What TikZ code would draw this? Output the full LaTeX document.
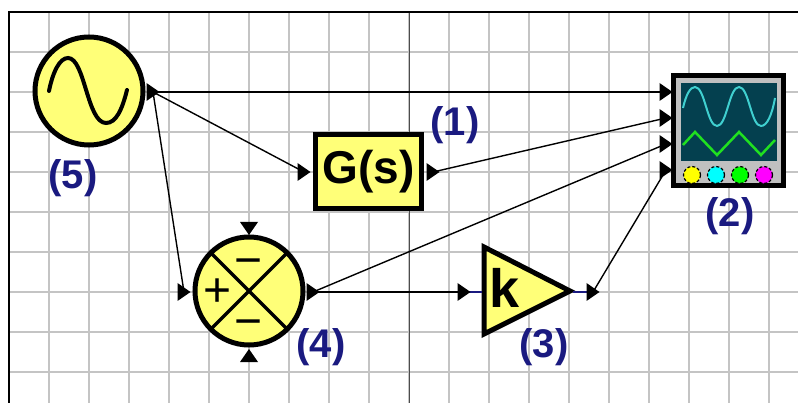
\documentclass[tikz,border=0pt]{standalone}
\usepackage{fontspec}
\setmainfont{Liberation Sans}
\usetikzlibrary{shapes.geometric}
\definecolor{blockyellow}{HTML}{FFFF78}
\definecolor{gridgray}{HTML}{C4C4C4}
\definecolor{labelblue}{HTML}{1A1A80}
\definecolor{screenteal}{HTML}{04404F}
\definecolor{tracecyan}{HTML}{40D0D0}
\definecolor{tracegreen}{HTML}{20E020}
\definecolor{knobyellow}{HTML}{FFFF00}
\definecolor{knobcyan}{HTML}{00FFFF}
\definecolor{knobgreen}{HTML}{00FF00}
\definecolor{knobmagenta}{HTML}{FF00FF}
\definecolor{panelgray}{HTML}{C0C0C0}
\tikzset{
  x=1pt,y=-1pt,
  block/.style={draw=black,line width=5pt,fill=blockyellow,inner sep=0pt,outer sep=0pt},
  roundblock/.style={block,circle,minimum size=108pt},
  wire/.style={black,line width=1.4pt},
  stub/.style={labelblue,line width=1.8pt},
  tag/.style={text=labelblue,font=\fontsize{40}{40}\selectfont\bfseries,inner sep=0pt},
  sign/.style={font=\fontsize{48}{48}\selectfont,inner sep=0pt},
  knob/.style={circle,draw=black,densely dashed,line width=1.2pt,minimum size=17pt,inner sep=0pt},
  porttip/.style={fill=black,draw=none},
}
\newcommand{\portright}[2]{\coordinate (#1) at #2; \fill[porttip] (#1) ++(-6.5,-9) -- ++(13,9) -- ++(-13,9) -- cycle;}
\newcommand{\portdown}[2]{\coordinate (#1) at #2; \fill[porttip] (#1) ++(-9,-6) -- ++(18,0) -- ++(-9,13) -- cycle;}
\newcommand{\portup}[2]{\coordinate (#1) at #2; \fill[porttip] (#1) ++(-9,6) -- ++(18,0) -- ++(-9,-13) -- cycle;}
\begin{document}
\begin{tikzpicture}
\useasboundingbox (0,0) rectangle (798,403);
\fill[white] (0,0) rectangle (798,403);
% grid
\foreach \gx in {49,89,...,769} \draw[gridgray,line width=1.5pt] (\gx,12) -- (\gx,403);
\foreach \gy in {52,92,...,372} \draw[gridgray,line width=1.5pt] (9,\gy) -- (798,\gy);
\draw[black!70,line width=1.5pt] (409.5,12) -- (409.5,403);
\draw[black,line width=2pt] (9,403) -- (9,12) -- (798,12);
% wires
\coordinate (srcout) at (153,92);
\coordinate (gin) at (304,172);
\coordinate (gout) at (433,172);
\coordinate (sumin) at (184,292);
\coordinate (sumout) at (313,292);
\coordinate (kin) at (464,292);
\coordinate (kout) at (593,292);
\coordinate (sa) at (666,92);
\coordinate (sb) at (666,118);
\coordinate (sc) at (666,144);
\coordinate (sd) at (666,170);
\draw[wire] (srcout) -- (sa);
\draw[wire] (srcout) -- (gin);
\draw[wire] (srcout) -- (sumin);
\draw[wire] (gout) -- (sb);
\draw[wire] (sumout) -- (sc);
\draw[wire] (sumout) -- (kin);
\draw[wire] (kout) -- (sd);
% source
\node[roundblock] (src) at (89,91) {};
\draw[black,line width=4pt,line cap=round] (49,91) .. controls (53,71) and (60,58) .. (68,58) .. controls (85,58) and (87,123) .. (106,123) .. controls (116,123) and (122,110) .. (127,90);
% transfer block
\node[block,minimum width=106pt,minimum height=74pt] (gbox) at (368.5,171.5) {\fontsize{46}{46}\selectfont\bfseries G(s)};
% summing junction
\node[roundblock] (sum) at (249,291) {};
\draw[black,line width=3.5pt] (sum.45) -- (sum.225);
\draw[black,line width=3.5pt] (sum.135) -- (sum.315);
\node[sign] (plus) at (218,293) {+};
\node[sign] (minusa) at (249,268) {−};
\node[sign] (minusb) at (249,329) {−};
% gain
\draw[block,line join=miter] (484,247) -- (484,334) -- (570,291) -- cycle;
\node[inner sep=0pt,font=\fontsize{54}{54}\selectfont\bfseries] (gaink) at (505,288) {k};
\coordinate (kl) at (482,292);
\coordinate (kr) at (573,292);
\draw[stub] (kin) -- (kl);
\draw[stub] (kr) -- (kout);
% scope
\node[draw=black,line width=5pt,fill=panelgray,minimum size=110pt,inner sep=0pt,outer sep=0pt] (scope) at (728.5,130.5) {};
\fill[screenteal] (681,83) rectangle (777,161);
\draw[tracecyan,line width=2pt] (683,108) .. controls (686,95) and (690,87) .. (695,87) .. controls (705,87) and (707,126) .. (717,126) .. controls (727,126) and (729,87) .. (739,87) .. controls (749,87) and (751,126) .. (761,126) .. controls (767,126) and (772,115) .. (775,98);
\draw[tracegreen,line width=2.5pt] (683,145) -- (695,132) -- (717,155) -- (739,132) -- (761,155) -- (775,140);
\node[knob,fill=knobyellow] (ka) at (692,175) {};
\node[knob,fill=knobcyan] (kb) at (716,175) {};
\node[knob,fill=knobgreen] (kc) at (740,175) {};
\node[knob,fill=knobmagenta] (kd) at (764,175) {};
% ports
\portright{psrc}{(srcout)}
\portright{pgin}{(gin)}
\portright{pgout}{(gout)}
\portright{psumin}{(sumin)}
\portright{psumout}{(sumout)}
\portright{pkin}{(kin)}
\portright{pkout}{(kout)}
\portright{psa}{(sa)}
\portright{psb}{(sb)}
\portright{psc}{(sc)}
\portright{psd}{(sd)}
\portdown{ptop}{(249,228)}
\portup{pbot}{(249,356)}
% labels
\node[tag] (l5) at (73,178) {(5)};
\node[tag] (l1) at (455,125) {(1)};
\node[tag] (l2) at (730,216) {(2)};
\node[tag] (l3) at (544,347) {(3)};
\node[tag] (l4) at (321,347) {(4)};
\end{tikzpicture}
\end{document}
